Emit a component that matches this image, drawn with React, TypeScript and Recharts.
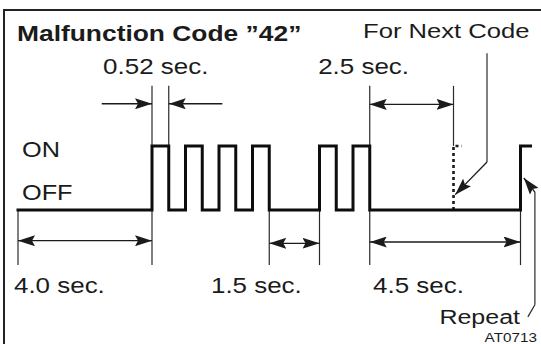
import { LineChart, Line, XAxis, YAxis, ReferenceLine, ReferenceDot } from "recharts";

// Diagnostic code "42": level changes (seconds) and the level held after each change
const codeTimes = [0, 4, 4.5, 5, 5.5, 6, 6.5, 7, 7.5, 9, 9.5, 10, 10.5, 15, 15.3];
const codeLevels = [0, 1, 0, 1, 0, 1, 0, 1, 0, 1, 0, 1, 0, 1, 1];

// dashed start of the next code
const nextTimes = [13, 13, 13.25];
const nextLevels = [0, 1, 1];

const levelNames = ["ON", "OFF"];
const title = "Malfunction Code \u201d42\u201d";
const pulseLabel = "0.52 sec.";
const gapLabels = ["4.0 sec.", "1.5 sec.", "4.5 sec.", "2.5 sec."];
const nextLabel = "For Next Code";
const repeatLabel = "Repeat";
const figId = "AT0713";

const waveData = codeTimes.map((t, i) => ({ t, v: codeLevels[i] }));
const nextData = nextTimes.map((t, i) => ({ t, v: nextLevels[i] }));

const FONT = '"Liberation Sans", Arial, Helvetica, sans-serif';
const INK = "#1b1b1b";

function textShape(txt: string, size: number, opts: { bold?: boolean; anchor?: string; sx?: number } = {}) {
  const anchor = opts.anchor ?? "start";
  return (p: any) => (
    <text
      x={p.cx}
      y={p.cy}
      fontFamily={FONT}
      fontSize={size}
      fontWeight={opts.bold ? 700 : 400}
      textAnchor={anchor}
      fill={INK}
      style={{
        transformBox: "fill-box",
        transformOrigin: anchor === "end" ? "right center" : "left center",
        transform: `scaleX(${opts.sx ?? 1.18})`,
      }}
    >
      {txt}
    </text>
  );
}

const arrow = (both: boolean) => (p: any) => (
  <line
    x1={p.x1}
    y1={p.y1}
    x2={p.x2}
    y2={p.y2}
    stroke={INK}
    strokeWidth={1.3}
    markerEnd="url(#head)"
    markerStart={both ? "url(#head)" : undefined}
  />
);

const thin = { stroke: "#2a2a2a", strokeWidth: 1.2, ifOverflow: "visible" as const };

export default function App() {
  return (
    <div style={{ position: "absolute", left: 0, top: 0, width: 541, height: 344, background: "#fff", overflow: "hidden" }}>
      <div
        style={{
          position: "absolute",
          left: 3,
          top: 9,
          right: -4,
          bottom: -4,
          borderLeft: "2px solid #222",
          borderTop: "2px solid #222",
        }}
      />
      <LineChart
        width={541}
        height={344}
        margin={{ top: 0, right: 0.4, bottom: 0, left: 1.25 }}
        style={{ position: "absolute", left: 0, top: 0 }}
      >
        <defs>
          <marker
            id="head"
            viewBox="0 0 17 11"
            refX={17}
            refY={5.5}
            markerWidth={17}
            markerHeight={11}
            markerUnits="userSpaceOnUse"
            orient="auto-start-reverse"
          >
            <path d="M0,0 L17,5.5 L0,11 L3,5.5 Z" fill={INK} />
          </marker>
        </defs>
        <XAxis type="number" dataKey="t" domain={[-0.5, 15.6]} allowDataOverflow hide />
        <YAxis type="number" dataKey="v" domain={[-2.09375, 3.28125]} allowDataOverflow hide />

        {/* extension lines */}
        <ReferenceLine segment={[{ x: 0, y: 0 }, { x: 0, y: -0.86 }]} {...thin} />
        <ReferenceLine segment={[{ x: 4, y: 1.94 }, { x: 4, y: -0.86 }]} {...thin} />
        <ReferenceLine segment={[{ x: 4.5, y: 1.94 }, { x: 4.5, y: 1 }]} {...thin} />
        <ReferenceLine segment={[{ x: 7.5, y: 0 }, { x: 7.5, y: -0.86 }]} {...thin} />
        <ReferenceLine segment={[{ x: 9, y: 0 }, { x: 9, y: -0.86 }]} {...thin} />
        <ReferenceLine segment={[{ x: 10.5, y: 1.94 }, { x: 10.5, y: -0.86 }]} {...thin} />
        <ReferenceLine segment={[{ x: 13, y: 1.94 }, { x: 13, y: 1 }]} {...thin} />
        <ReferenceLine segment={[{ x: 15, y: 0 }, { x: 15, y: -0.86 }]} {...thin} />

        {/* dimension arrows */}
        <ReferenceLine segment={[{ x: 2.5, y: 1.66 }, { x: 4, y: 1.66 }]} ifOverflow="visible" shape={arrow(false)} />
        <ReferenceLine segment={[{ x: 6.1, y: 1.66 }, { x: 4.5, y: 1.66 }]} ifOverflow="visible" shape={arrow(false)} />
        <ReferenceLine segment={[{ x: 10.5, y: 1.65 }, { x: 13, y: 1.65 }]} ifOverflow="visible" shape={arrow(true)} />
        <ReferenceLine segment={[{ x: 0, y: -0.48 }, { x: 4, y: -0.48 }]} ifOverflow="visible" shape={arrow(true)} />
        <ReferenceLine segment={[{ x: 7.5, y: -0.52 }, { x: 9, y: -0.52 }]} ifOverflow="visible" shape={arrow(true)} />
        <ReferenceLine segment={[{ x: 10.5, y: -0.5 }, { x: 15, y: -0.5 }]} ifOverflow="visible" shape={arrow(true)} />

        {/* leaders */}
        <ReferenceLine segment={[{ x: 14.0, y: 2.45 }, { x: 14.0, y: 0.75 }]} {...thin} />
        <ReferenceLine segment={[{ x: 14.0, y: 0.75 }, { x: 13.05, y: 0.24 }]} ifOverflow="visible" shape={arrow(false)} />
        <ReferenceLine segment={[{ x: 15.22, y: -1.67 }, { x: 15.43, y: -1.48 }]} {...thin} />
        <ReferenceLine segment={[{ x: 15.43, y: -1.48 }, { x: 15.43, y: 0.28 }]} {...thin} />
        <ReferenceLine segment={[{ x: 15.43, y: 0.28 }, { x: 15.1, y: 0.5 }]} ifOverflow="visible" shape={arrow(false)} />

        <Line
          data={nextData}
          dataKey="v"
          type="linear"
          stroke={INK}
          strokeWidth={2.6}
          strokeDasharray="3 3"
          dot={false}
          isAnimationActive={false}
        />
        <Line
          data={waveData}
          dataKey="v"
          type="stepAfter"
          stroke="#0d0d0d"
          strokeWidth={3}
          strokeLinejoin="miter"
          strokeLinecap="square"
          dot={false}
          isAnimationActive={false}
        />

        {/* texts */}
        <ReferenceDot x={-0.03} y={2.64} r={0} ifOverflow="visible" shape={textShape(title, 22, { bold: true, sx: 1.2 })} />
        <ReferenceDot x={10.3} y={2.69} r={0} ifOverflow="visible" shape={textShape(nextLabel, 21, { sx: 1.22 })} />
        <ReferenceDot x={2.54} y={2.125} r={0} ifOverflow="visible" shape={textShape(pulseLabel, 22)} />
        <ReferenceDot x={8.96} y={2.125} r={0} ifOverflow="visible" shape={textShape(gapLabels[3], 22)} />
        <ReferenceDot x={0.12} y={0.83} r={0} ifOverflow="visible" shape={textShape(levelNames[0], 22, { sx: 1.15 })} />
        <ReferenceDot x={0.12} y={0.16} r={0} ifOverflow="visible" shape={textShape(levelNames[1], 22, { sx: 1.15 })} />
        <ReferenceDot x={-0.12} y={-1.3} r={0} ifOverflow="visible" shape={textShape(gapLabels[0], 22)} />
        <ReferenceDot x={5.76} y={-1.3} r={0} ifOverflow="visible" shape={textShape(gapLabels[1], 22)} />
        <ReferenceDot x={10.6} y={-1.3} r={0} ifOverflow="visible" shape={textShape(gapLabels[2], 22)} />
        <ReferenceDot x={14.99} y={-1.78} r={0} ifOverflow="visible" shape={textShape(repeatLabel, 20, { anchor: "end", sx: 1.25 })} />
        <ReferenceDot x={15.49} y={-2.06} r={0} ifOverflow="visible" shape={textShape(figId, 12.5, { anchor: "end", sx: 1.22 })} />
      </LineChart>
    </div>
  );
}
